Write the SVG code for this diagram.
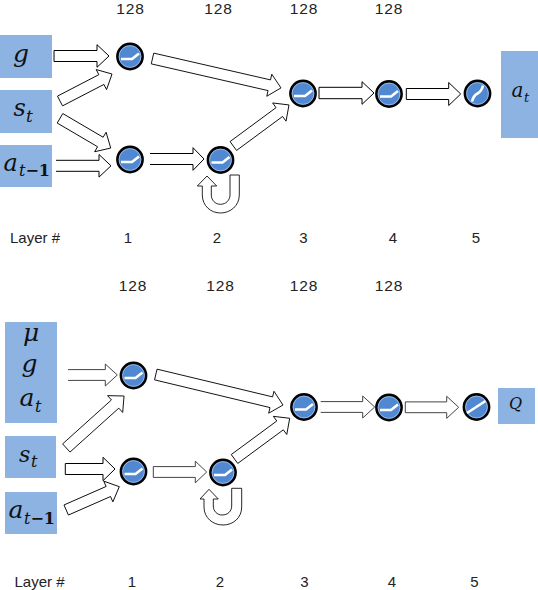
<svg xmlns="http://www.w3.org/2000/svg" xmlns:xlink="http://www.w3.org/1999/xlink" width="538" height="590" viewBox="0 0 538 590">
<style>
.box{fill:#8DB3E2}
.m{font-family:"DejaVu Serif",serif;font-style:italic;fill:#111}
.b{font-style:normal;font-weight:bold}
.t{font-family:"Liberation Sans",sans-serif;font-size:15px;fill:#222;text-anchor:middle}
.c{font-family:"Liberation Sans",sans-serif;font-size:15.5px;letter-spacing:.8px;fill:#222;text-anchor:middle}
.a{fill:#fff;stroke:#000;stroke-width:1;stroke-linejoin:miter}
.v{stroke-width:.85}
.g{stroke:#444}
.d{fill:#5088D2;stroke:#000;stroke-width:2.6}
.r{fill:none;stroke:#B5CDEE;stroke-width:.7}
.i{fill:none;stroke:#fff;stroke-width:2.6}
</style>
<defs>
<g id="relu"><circle class="d" r="12.6"/><circle class="r" r="10.9"/><path class="i" d="M-9,2.5H2L9,-3"/></g>
<g id="tanh"><circle class="d" r="12.6"/><circle class="r" r="10.9"/><path class="i" d="M-5.5,8C-4,2 -2,1 0,0S4,-2 5.5,-8"/></g>
<g id="lin"><circle class="d" r="12.6"/><circle class="r" r="10.9"/><path class="i" d="M-9.5,6L9,-6"/></g>
</defs>
<rect width="538" height="590" fill="#fff"/>

<g id="connectors">
<path class="a" transform="translate(54,56)" d="M0,-5.5H43V-11.3L55,0L43,11.3V5.5H0Z"/>
<path class="a v" transform="translate(60,101) rotate(-27.4)" d="M0,-5.5H46.6V-11.3L58.6,0L46.6,11.3V5.5H0Z"/>
<path class="a v" transform="translate(60,118.3) rotate(30.4)" d="M0,-5.5H46.8V-11.3L58.8,0L46.8,11.3V5.5H0Z"/>
<path class="a" transform="translate(56,165.8)" d="M0,-5.5H43V-11.3L55,0L43,11.3V5.5H0"/>
<path class="a" transform="translate(150,159)" d="M0,-5.5H43V-11.3L54,0L43,11.3V5.5H0"/>
<path class="a v" transform="translate(152.5,58.5) rotate(12.9)" d="M0,-5.5H119.8V-11.3L131.8,0L119.8,11.3V5.5H0Z"/>
<path class="a v" transform="translate(233.3,146) rotate(-36.4)" d="M0,-5.5H57.2V-11.3L69.2,0L57.2,11.3V5.5H0Z"/>
<path class="a" transform="translate(319,93)" d="M0,-5.7H43V-11.3L55,0L43,11.3V5.7H0Z"/>
<path class="a" transform="translate(406.3,94)" d="M0,-5.5H42.4V-11.5L54.4,0L42.4,11.5V5.5H0Z"/>
<path class="a v" d="M230,175H239.3V195C239.3,206 230,213 220.5,213C211,213 202.3,206 202.3,195V186H197.3L207,176L216.7,186H211.3V195C211.3,200 215,204.3 220.5,204.3C226,204.3 230,200 230,195Z"/>

<path class="a g" transform="translate(68,375)" d="M0,-5.4H37.3V-11L49.3,0L37.3,11V5.4H0"/>
<path class="a v" transform="translate(66.3,448) rotate(-42)" d="M0,-5.5H65.7V-11.3L77.7,0L65.7,11.3V5.5H0Z"/>
<path class="a" transform="translate(65.3,469)" d="M0,-5.5H37.7V-11.7L49.7,0L37.7,11.7V5.5H0Z"/>
<path class="a v" transform="translate(66.2,510) rotate(-23.7)" d="M0,-5.5H46V-11.3L58,0L46,11.3V5.5H0Z"/>
<path class="a g" transform="translate(153.3,472)" d="M0,-5.4H42V-10.8L53.4,0L42,10.8V5.4H0Z"/>
<path class="a v" transform="translate(155.8,374.5) rotate(13.5)" d="M0,-5.5H118.8V-11.3L130.8,0L118.8,11.3V5.5H0Z"/>
<path class="a v" transform="translate(234.5,459) rotate(-36.4)" d="M0,-5.5H56.6V-11.3L68.6,0L56.6,11.3V5.5H0Z"/>
<path class="a g" transform="translate(320.7,407)" d="M0,-5.4H42V-11L54,0L42,11V5.4H0"/>
<path class="a g" transform="translate(405.3,407.3)" d="M0,-5.4H41.4V-11L53.4,0L41.4,11V5.4H0Z"/>
<path class="a v" d="M231.7,488.3H241.7V507C241.7,518 233,525 223,525C213,525 204,518 204,507V499H200L209,489.3L218.3,499H213.3V506C213.3,511 217,515 222,515C228,515 231.7,511 231.7,506Z"/>
</g>

<g id="in-g"><rect class="box" x="0" y="35" width="52" height="43"/><text class="m" x="21" y="62" font-size="25" text-anchor="middle">g</text></g>
<g id="in-s"><rect class="box" x="0" y="90" width="52" height="43"/><text class="m" x="13.5" y="115.7" font-size="24">s</text><text class="m" x="26" y="121.7" font-size="17">t</text></g>
<g id="in-a"><rect class="box" x="0" y="145" width="52" height="42"/><text class="m" x="3.5" y="170.7" font-size="24">a</text><text class="m" x="19" y="175.7" font-size="16">t<tspan class="b">−1</tspan></text></g>
<g id="out-a"><rect class="box" x="501" y="51" width="37" height="87"/><text class="m" x="511.5" y="96.7" font-size="20">a</text><text class="m" x="524" y="101.7" font-size="13">t</text></g>

<g id="n1"><use xlink:href="#relu" href="#relu" x="130" y="56.5"/></g>
<g id="n2"><use xlink:href="#relu" href="#relu" x="130" y="159.5"/></g>
<g id="n3"><use xlink:href="#relu" href="#relu" x="220.5" y="160"/></g>
<g id="n4"><use xlink:href="#relu" href="#relu" x="303" y="93.5"/></g>
<g id="n5"><use xlink:href="#relu" href="#relu" x="389" y="94"/></g>
<g id="n6"><use xlink:href="#tanh" href="#tanh" x="477.5" y="93.5"/></g>

<g id="labels-top">
<text class="c" x="130.5" y="14.1">128</text><text class="c" x="218.5" y="14.1">128</text><text class="c" x="304" y="14.1">128</text><text class="c" x="389" y="14.1">128</text>
<text class="t" x="35" y="243">Layer #</text><text class="t" x="128" y="243">1</text><text class="t" x="217" y="243">2</text><text class="t" x="303.5" y="243">3</text><text class="t" x="393" y="243">4</text><text class="t" x="476" y="243">5</text>
</g>

<g id="in2-mga"><rect class="box" x="5" y="322" width="52" height="101"/>
<text class="m" x="31" y="341" font-size="25" text-anchor="middle">μ</text><text class="m" x="29.5" y="372" font-size="25" text-anchor="middle">g</text><text class="m" x="19.5" y="406" font-size="25">a</text><text class="m" x="35" y="411.7" font-size="16">t</text></g>
<g id="in2-s"><rect class="box" x="5" y="436" width="51" height="42"/><text class="m" x="19" y="461.7" font-size="22">s</text><text class="m" x="31" y="466.7" font-size="16">t</text></g>
<g id="in2-a"><rect class="box" x="5" y="492" width="52" height="42"/><text class="m" x="8.5" y="518.3" font-size="25">a</text><text class="m" x="24" y="524" font-size="16">t<tspan class="b">−1</tspan></text></g>
<g id="out-q"><rect class="box" x="498" y="388" width="37" height="36"/><text class="m" x="509" y="409" font-size="16">Q</text></g>

<g id="m1"><use xlink:href="#relu" href="#relu" x="133.5" y="375.5"/></g>
<g id="m2"><use xlink:href="#relu" href="#relu" x="133.5" y="471.5"/></g>
<g id="m3"><use xlink:href="#relu" href="#relu" x="223" y="472.5"/></g>
<g id="m4"><use xlink:href="#relu" href="#relu" x="304" y="407"/></g>
<g id="m5"><use xlink:href="#relu" href="#relu" x="389" y="407.5"/></g>
<g id="m6"><use xlink:href="#lin" href="#lin" x="476.5" y="407"/></g>

<g id="labels-bottom">
<text class="c" x="133" y="291">128</text><text class="c" x="220.5" y="291">128</text><text class="c" x="304" y="291">128</text><text class="c" x="389" y="291">128</text>
<text class="t" x="39.5" y="586.6">Layer #</text><text class="t" x="132" y="586.6">1</text><text class="t" x="220" y="586.6">2</text><text class="t" x="304.5" y="586.6">3</text><text class="t" x="392" y="586.6">4</text><text class="t" x="474.5" y="586.6">5</text>
</g>
</svg>
